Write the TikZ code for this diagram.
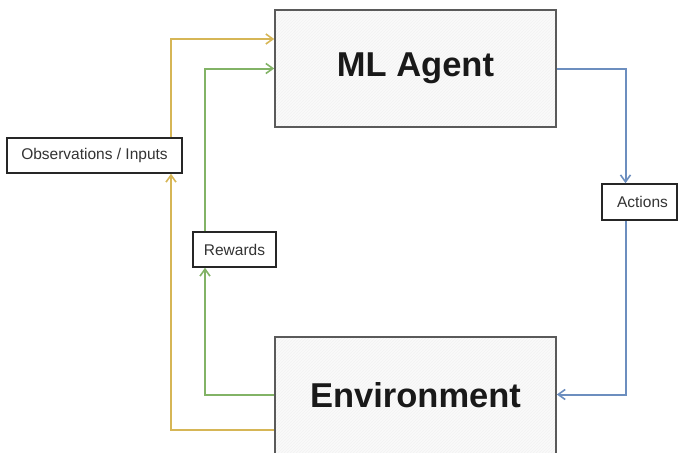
\documentclass[tikz,border=0pt]{standalone}
\usepackage{fontspec}
\setmainfont{Liberation Sans}
\usetikzlibrary{arrows.meta, patterns, positioning}
\definecolor{Obscolor}{HTML}{D6B656}
\definecolor{Rewcolor}{HTML}{82B366}
\definecolor{Actcolor}{HTML}{6C8EBF}
\definecolor{Boxcolor}{HTML}{5A5A5A}

\begin{document}
\begin{tikzpicture}[
  x=1pt, y=-1pt,
  %% cajas grandes: agente y entorno
  mainbox/.style={
    rectangle, draw=Boxcolor, line width=1.6pt,
    preaction={fill=black!2},
    pattern=north east lines, pattern color=black!5,
    font=\fontsize{34.5}{40}\selectfont\bfseries, text=black!90,
    minimum width=281pt, minimum height=117pt, inner sep=0pt
  },
  %% etiquetas pequeñas de las flechas
  tagbox/.style={
    rectangle, draw=black!85, line width=1.5pt, fill=white,
    font=\fontsize{15.5}{18}\selectfont, text=black!80,
    minimum height=35pt, inner sep=0pt
  },
  flow/.style={
    -{Straight Barb[length=7pt, width=10pt, line width=1.6pt]},
    line width=2pt
  }
]
\useasboundingbox (0,0) rectangle (679,452);

%% ── Cajas principales ─────────────────────────────────────────────
\node[mainbox] (agent) at (415.5, 68.5) {ML Agent};
\node[mainbox] (env)   at (415.5, 395.5) {Environment};

%% ── Etiquetas ─────────────────────────────────────────────────────
\node[tagbox, minimum width=175pt] (obs)     at (94.5, 155.5)  {Observations / Inputs};
\node[tagbox, minimum width=83pt]  (rewards) at (234.5, 249.5) {Rewards};
\node[tagbox, minimum width=75pt, minimum height=36pt] (actions) at (639.5, 202)
  {\hspace*{6pt}Actions};

%% columnas de las flechas verticales
\coordinate (obsx) at (171, 0);
\coordinate (rewx) at (205, 0);
\coordinate (actx) at (625.5, 0);

%% ────────────────── FLECHAS ───────────────────────────────────────

%% Observaciones (amarillo)
\draw[flow, Obscolor] (obs.north -| obsx) |- ([yshift=29.5pt]agent.west);
\draw[flow, Obscolor] ([yshift=-34.5pt]env.west) -| (obs.south -| obsx);

%% Recompensas (verde)
\draw[flow, Rewcolor] (rewards.north -| rewx) |- (agent.west);
\draw[flow, Rewcolor] ([yshift=1pt]env.west) -| (rewards.south -| rewx);

%% Acciones (azul)
\draw[flow, Actcolor] (agent.east) -| (actions.north -| actx);
\draw[flow, Actcolor] (actions.south -| actx) |- ([yshift=1pt]env.east);

\end{tikzpicture}
\end{document}
